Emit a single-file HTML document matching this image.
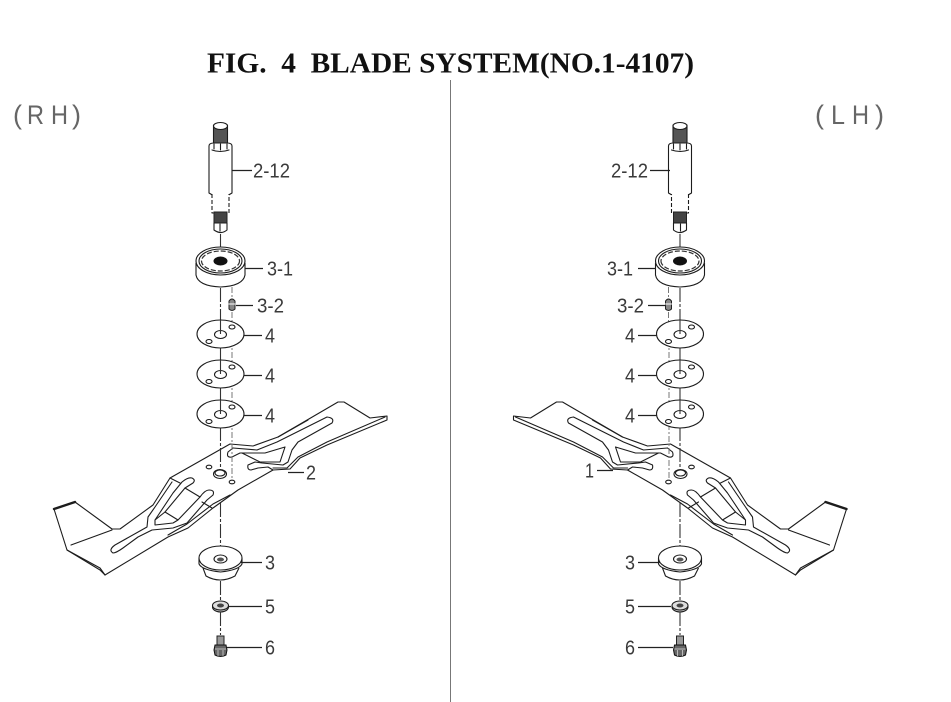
<!DOCTYPE html>
<html><head><meta charset="utf-8"><style>
html,body{margin:0;padding:0;background:#fff;width:951px;height:702px;overflow:hidden}
svg{display:block}
.l{fill:none;stroke:#1c1c1c;stroke-width:1.100;stroke-linejoin:round;stroke-linecap:round}
.w{fill:#fff;stroke:#1c1c1c;stroke-width:1.100;stroke-linejoin:round}
.c{fill:none;stroke:#333;stroke-width:1.100;stroke-dasharray:14 2 3 2}
.d{fill:none;stroke:#777;stroke-width:1;stroke-dasharray:6 2 2 2}
.k{stroke:#222;stroke-width:1.200;fill:none}
text.t{font-family:"Liberation Sans",sans-serif;font-size:20px;fill:#3a3a3a}
text.h{font-family:"Liberation Sans",sans-serif;font-size:27px;fill:#666}
</style></head><body>
<svg width="951" height="702" viewBox="0 0 951 702" xmlns="http://www.w3.org/2000/svg">
<defs>
<g id="blade">
<path class="w" d="M54,509 L75,502 L112,529 L120,529 L153,505 L170,478 L230,444 L253,446 L278,437 L338,402 L344,402 L370,418 L387,416 L387,420 L327,445 L300,458 L290,469 L273,470 L238,490 L213,508 L188,528 L168,537 L105,575 L100,570 L67,550 Z"/>
<path class="l" d="M54,509 L75,502" style="stroke-width:2.400"/>
<path class="l" d="M67,550 L100,568 L105,575 M71,545 L112,530"/>
<path class="l" d="M168,535 L187,524 L213,504 L230,495 M273,468 L287,468 L298,457 L327,442 L385,417"/>
<!-- left panel -->
<path class="l" d="M170,478 L180,483 M172,482 L155,507 L148,517 L147,527 L115,545 Q108,550 113,553 Q116,553 123,548 L138,537 L152,530 L173,528 L187,523 L207,500 L213,495 Q215,490 209,490 Q205,490 200,497 L178,520 L173,523 L155,525 L155,520 L165,512 L178,520"/>
<path class="l" d="M155,520 L173,493 L182,482 Q188,477 192,478 Q196,480 193,483 L185,488 L165,512"/>
<path class="l" d="M185,488 L200,497 M202,502 L212,508"/>
<!-- right panel -->
<path class="l" d="M233,448 L257,450 L277,442 L327,417 Q335,418 332,423 L298,442 L292,450 L288,462 L283,465 L262,463 L255,462 L248,465 Q247,470 251,470 L258,468 L268,467 L273,470"/>
<path class="l" d="M233,448 L228,452 Q226,458 232,457 L240,453 L242,453 L265,453 L285,447 L280,462 L260,462 L242,453"/>
<path class="l" d="M278,437 L308,420"/>
<ellipse class="w" cx="220" cy="474" rx="6.500" ry="4.500"/>
<ellipse class="l" cx="220" cy="473" rx="5" ry="3"/>
<ellipse class="w" cx="209" cy="467" rx="2.800" ry="1.800"/>
<ellipse class="w" cx="232" cy="482" rx="2.800" ry="1.800"/>
</g>
<g id="shaft">
<rect class="w" x="213.500" y="125" width="14" height="19" style="fill:#555"/>
<ellipse class="w" cx="220.500" cy="126" rx="7" ry="3.500"/>
<path class="w" d="M209,146 Q209,143 214,143 L227,143 Q232,143 232,146 L232,193 Q226,197 220.500,197 Q215,197 209,193Z"/>
<path class="l" d="M212,150 Q220,153 229,150 M214,144 V149 M227,144 V149 M220.500,144 V150"/>
<path class="w" d="M212,194 L212,213 L229,213 L229,194" style="stroke-dasharray:4 2"/>
<rect x="214" y="212" width="13" height="11" fill="#444" stroke="#222"/>
<path class="w" d="M214,223 H227 V230 Q221,235 214,230Z"/>
<path class="l" d="M220,224 V231"/>
<path class="c" d="M220.500,234 V247"/>
<path class="w" d="M196,263 V275 Q198,286 220.500,287 Q243,286 245,275 V263"/>
<ellipse class="w" cx="220.500" cy="261" rx="24.500" ry="14"/>
<ellipse class="l" cx="220.500" cy="261" rx="21.500" ry="12"/>
<ellipse cx="220.500" cy="261" rx="19" ry="10" fill="none" stroke="#333" stroke-width="1.200" stroke-dasharray="5 2"/>
<ellipse cx="220.500" cy="261" rx="7" ry="4.500" fill="#111"/>
<path class="c" d="M220.500,288 V320"/>
<path d="M229,301 Q232,297 235,301 V309 Q232,312 229,309Z" fill="#888" stroke="#222"/>
<path class="l" d="M229,304 H235" style="stroke:#fff"/>
<path class="d" d="M232,287 V298 M232,312 V325"/>
</g>
<g id="washer">
<ellipse class="w" cx="220.500" cy="334" rx="23.500" ry="14"/>
<ellipse class="l" cx="220.500" cy="334.500" rx="6" ry="4"/>
<ellipse class="l" cx="232" cy="327" rx="3" ry="2"/>
<ellipse class="l" cx="209" cy="341.500" rx="3" ry="2"/>
</g>
<g id="hard">
<path class="w" d="M203,568 L206,576 Q220,584 235,576 L239,568"/>
<path class="w" d="M199,558 V564 Q202,570 220.500,572 Q239,570 242,564 V558"/>
<ellipse class="w" cx="220.500" cy="558" rx="21.500" ry="12"/>
<ellipse class="l" cx="220.500" cy="559" rx="6.500" ry="4"/>
<ellipse cx="220.500" cy="559.500" rx="3.500" ry="2" fill="#555"/>
<path class="c" d="M220.500,581 V601"/>
<ellipse class="w" cx="220.500" cy="607" rx="8" ry="5" style="fill:#bbb"/>
<ellipse class="l" cx="220.500" cy="605.500" rx="8" ry="4.500" style="fill:#ddd"/>
<ellipse cx="220.500" cy="605.500" rx="3.500" ry="2" fill="#444"/>
<path class="c" d="M220.500,612 V635"/>
<rect x="217" y="636" width="7" height="9" fill="#999" stroke="#222"/>
<path d="M215,645 H226 L227,650 L226,655 Q220.500,658 215,655 L214,650Z" fill="#666" stroke="#111"/>
<path d="M218,650 V656 M223,650 V656 M215,649 H226" stroke="#ddd" stroke-width=".7"/>
</g>
</defs>

<text x="207" y="72.500" font-family="'Liberation Serif',serif" font-weight="bold" font-size="28" fill="#111" textLength="487" lengthAdjust="spacingAndGlyphs" xml:space="preserve">FIG.  4  BLADE SYSTEM(NO.1-4107)</text>
<line x1="450.500" y1="80" x2="450.500" y2="702" stroke="#777" stroke-width="1"/>
<text class="h" x="13" y="124">(</text><text class="h" x="27" y="124" textLength="17" lengthAdjust="spacingAndGlyphs">R</text><text class="h" x="51" y="124" textLength="17" lengthAdjust="spacingAndGlyphs">H</text><text class="h" x="72" y="124">)</text>
<text class="h" x="815" y="124">(</text><text class="h" x="831" y="124" textLength="14" lengthAdjust="spacingAndGlyphs">L</text><text class="h" x="852" y="124" textLength="17" lengthAdjust="spacingAndGlyphs">H</text><text class="h" x="875" y="124">)</text>

<!-- RH -->
<use href="#blade"/>
<use href="#shaft"/>
<path class="c" d="M220.500,347 V361 M220.500,387 V401 M220.500,427 V468"/>
<path class="d" d="M232,340 V366 M232,380 V405 M232,420 V480"/>
<use href="#washer"/>
<use href="#washer" y="40"/>
<use href="#washer" y="80"/>
<path class="c" d="M220.500,320 V335 M220.500,360 V375 M220.500,400 V415 M220.500,503 V553"/>
<use href="#hard"/>

<!-- LH -->
<use href="#blade" transform="translate(900.500,0) scale(-1,1)"/>
<use href="#shaft" transform="translate(900.500,0) scale(-1,1)"/>
<path class="c" d="M680,347 V361 M680,387 V401 M680,427 V468"/>
<path class="d" d="M669,340 V366 M669,380 V405 M669,424 V480"/>
<use href="#washer" x="459.500"/>
<use href="#washer" x="459.500" y="40"/>
<use href="#washer" x="459.500" y="80"/>
<path class="c" d="M680,320 V335 M680,360 V375 M680,400 V415 M680,503 V553"/>
<use href="#hard" x="459.500"/>

<!-- leaders -->
<path class="k" d="M232,170.500H252 M245,268.500H263 M236,305.500H253 M244,335.500H262 M244,375.500H262 M244,415.500H262 M288,472.500H304 M241,562.500H262 M229,606.500H262 M227,647.500H262"/>
<path class="k" d="M650,170.500H670 M638,268.500H656 M648,305.500H666 M638,335.500H657 M638,375.500H657 M638,415.500H657 M597,470.500H613 M638,562.500H660 M638,606.500H671 M638,647.500H673"/>

<!-- labels -->
<g>
<text class="t" x="253" y="177.500" textLength="37" lengthAdjust="spacingAndGlyphs">2-12</text>
<text class="t" x="267" y="275.500" textLength="26" lengthAdjust="spacingAndGlyphs">3-1</text>
<text class="t" x="257" y="312.500" textLength="27" lengthAdjust="spacingAndGlyphs">3-2</text>
<text class="t" x="265" y="342.500" textLength="10" lengthAdjust="spacingAndGlyphs">4</text>
<text class="t" x="265" y="382.500" textLength="10" lengthAdjust="spacingAndGlyphs">4</text>
<text class="t" x="265" y="422.500" textLength="10" lengthAdjust="spacingAndGlyphs">4</text>
<text class="t" x="306" y="479.500" textLength="10" lengthAdjust="spacingAndGlyphs">2</text>
<text class="t" x="265" y="569.500" textLength="10" lengthAdjust="spacingAndGlyphs">3</text>
<text class="t" x="265" y="613.500" textLength="10" lengthAdjust="spacingAndGlyphs">5</text>
<text class="t" x="265" y="654.500" textLength="10" lengthAdjust="spacingAndGlyphs">6</text>
<text class="t" x="611" y="177.500" textLength="37" lengthAdjust="spacingAndGlyphs">2-12</text>
<text class="t" x="607" y="275.500" textLength="26" lengthAdjust="spacingAndGlyphs">3-1</text>
<text class="t" x="617" y="312.500" textLength="27" lengthAdjust="spacingAndGlyphs">3-2</text>
<text class="t" x="625" y="342.500" textLength="10" lengthAdjust="spacingAndGlyphs">4</text>
<text class="t" x="625" y="382.500" textLength="10" lengthAdjust="spacingAndGlyphs">4</text>
<text class="t" x="625" y="422.500" textLength="10" lengthAdjust="spacingAndGlyphs">4</text>
<text class="t" x="585" y="477.500" textLength="9" lengthAdjust="spacingAndGlyphs">1</text>
<text class="t" x="625" y="569.500" textLength="10" lengthAdjust="spacingAndGlyphs">3</text>
<text class="t" x="625" y="613.500" textLength="10" lengthAdjust="spacingAndGlyphs">5</text>
<text class="t" x="625" y="654.500" textLength="10" lengthAdjust="spacingAndGlyphs">6</text>
</g>
</svg>
</body></html>
